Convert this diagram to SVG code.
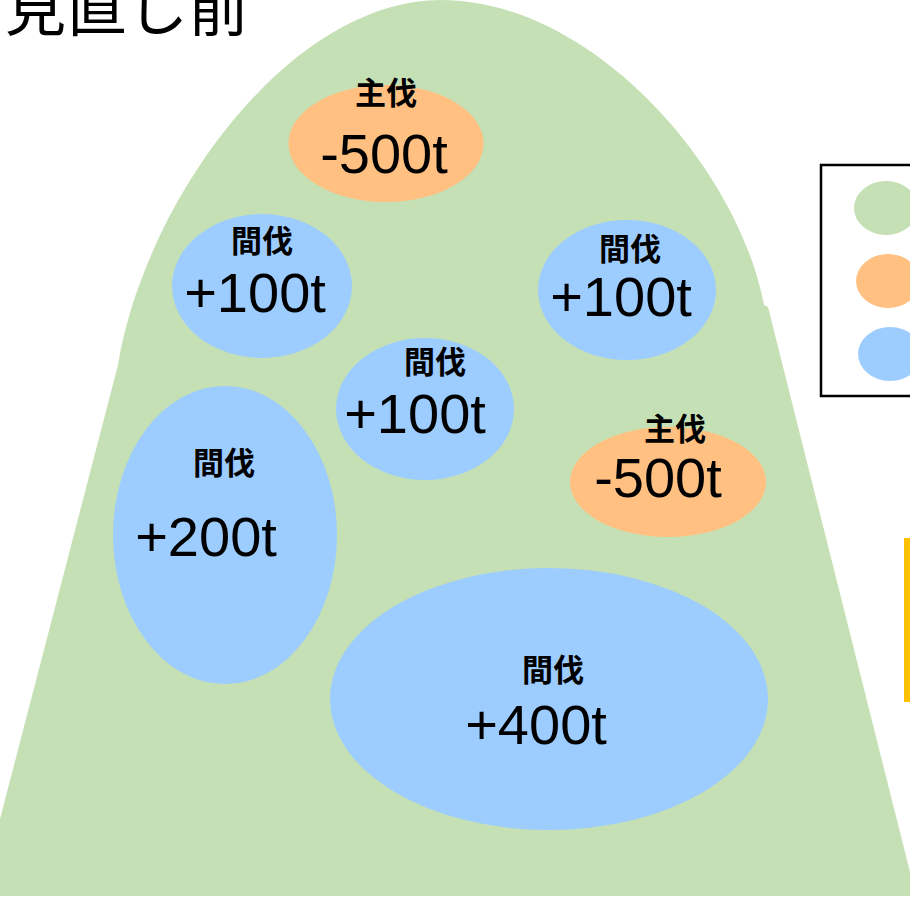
<svg xmlns="http://www.w3.org/2000/svg" width="910" height="899" viewBox="0 0 910 899">
<style>
.lbl{font-family:"Noto Sans CJK JP","Noto Sans CJK SC",sans-serif;font-weight:700;font-size:31px;fill:#000;text-anchor:middle}
.num{font-family:"Liberation Sans",Arial,sans-serif;font-size:56px;fill:#000;text-anchor:middle}
.title{font-family:"Noto Sans CJK JP","Noto Sans CJK SC",sans-serif;font-size:61px;fill:#000}
.blue{fill:#9DCCFF}
.orange{fill:#FFC081}
.green{fill:#C5E0B4}
</style>
<rect width="910" height="899" fill="#fff"/>
<g id="mountain">
<path class="green" d="M -20 896 L 118 365 C 145 200 290 0 441 0 C 592 0 738 167 764 305 L 768 307 L 916 896 Z"/>
</g>
<g id="title"><text class="title" x="5" y="31">見直し前</text></g>
<g id="legend">
<rect x="821" y="165" width="100" height="231" fill="#fff" stroke="#000" stroke-width="2.5"/>
<ellipse class="green" cx="886" cy="208" rx="32" ry="27"/>
<ellipse class="orange" cx="888" cy="281" rx="32" ry="27"/>
<ellipse class="blue" cx="890" cy="354" rx="32" ry="27"/>
</g>
<g id="yellow-bar"><rect x="904" y="538" width="8" height="164" fill="#FFC000"/></g>
<g id="n-main1">
<ellipse class="orange" cx="386" cy="143.5" rx="97.5" ry="58.5"/>
<text class="lbl" x="386" y="104">主伐</text>
<text class="num" x="384" y="173">-500t</text>
</g>
<g id="n-thin1">
<ellipse class="blue" cx="262" cy="286" rx="90" ry="72"/>
<text class="lbl" x="262" y="252">間伐</text>
<text class="num" x="255" y="312">+100t</text>
</g>
<g id="n-thin2">
<ellipse class="blue" cx="627" cy="290" rx="89" ry="70"/>
<text class="lbl" x="630" y="260">間伐</text>
<text class="num" x="621" y="316">+100t</text>
</g>
<g id="n-thin3">
<ellipse class="blue" cx="425" cy="409" rx="89" ry="71"/>
<text class="lbl" x="435" y="373">間伐</text>
<text class="num" x="415" y="433">+100t</text>
</g>
<g id="n-main2">
<ellipse class="orange" cx="668" cy="482" rx="98" ry="55"/>
<text class="lbl" x="675" y="440">主伐</text>
<text class="num" x="658" y="497">-500t</text>
</g>
<g id="n-thin4">
<ellipse class="blue" cx="225" cy="535" rx="112" ry="149"/>
<text class="lbl" x="224" y="474">間伐</text>
<text class="num" x="206" y="556">+200t</text>
</g>
<g id="n-thin5">
<ellipse class="blue" cx="549" cy="699" rx="219" ry="131"/>
<text class="lbl" x="553" y="681">間伐</text>
<text class="num" x="536" y="744">+400t</text>
</g>
</svg>
